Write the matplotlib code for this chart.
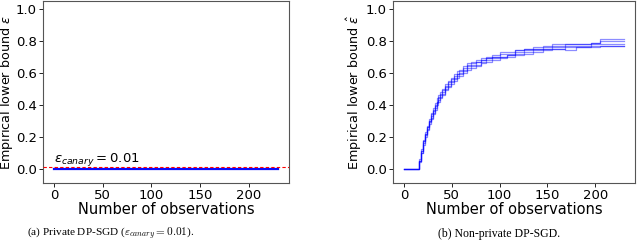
"""Empirical lower bound on epsilon for private vs non-private DP-SGD."""

import matplotlib.pyplot as plt

# number of observations at which the bound is recomputed
obs = [0, 14, 16, 18, 20, 22, 24, 26, 28, 30, 32, 34, 36, 38, 40, 43, 46, 49,
       52, 55, 58, 62, 66, 70, 75, 80, 86, 92, 100, 108, 116, 125, 135, 145,
       155, 168, 180, 195, 205, 230]

# private run: bound stays at zero
private_runs = [[0.0] * len(obs) for _ in range(5)]

# non-private runs
nonprivate_runs = [
    [0, 0, 0.06, 0.12, 0.18, 0.23, 0.27, 0.31, 0.35, 0.38, 0.41, 0.44, 0.46,
     0.48, 0.50, 0.53, 0.55, 0.57, 0.59, 0.61, 0.62, 0.64, 0.66, 0.67, 0.68,
     0.69, 0.69, 0.71, 0.73, 0.73, 0.74, 0.75, 0.76, 0.77, 0.78, 0.78, 0.78,
     0.79, 0.81, 0.81],
    [0, 0, 0.05, 0.11, 0.17, 0.22, 0.26, 0.30, 0.34, 0.37, 0.40, 0.42, 0.45,
     0.47, 0.49, 0.52, 0.54, 0.56, 0.58, 0.59, 0.61, 0.63, 0.65, 0.66, 0.67,
     0.68, 0.70, 0.70, 0.72, 0.72, 0.74, 0.75, 0.75, 0.76, 0.77, 0.78, 0.78,
     0.79, 0.80, 0.80],
    [0, 0, 0.05, 0.10, 0.16, 0.21, 0.25, 0.29, 0.32, 0.35, 0.38, 0.41, 0.43,
     0.45, 0.47, 0.50, 0.52, 0.54, 0.56, 0.58, 0.59, 0.61, 0.63, 0.64, 0.65,
     0.67, 0.68, 0.69, 0.70, 0.71, 0.72, 0.73, 0.74, 0.75, 0.75, 0.76, 0.76,
     0.77, 0.77, 0.77],
    [0, 0, 0.04, 0.10, 0.15, 0.20, 0.24, 0.28, 0.31, 0.34, 0.37, 0.40, 0.42,
     0.44, 0.46, 0.49, 0.51, 0.53, 0.55, 0.57, 0.58, 0.60, 0.62, 0.63, 0.64,
     0.66, 0.67, 0.68, 0.69, 0.70, 0.71, 0.72, 0.73, 0.74, 0.75, 0.74, 0.76,
     0.76, 0.77, 0.77],
    [0, 0, 0.05, 0.11, 0.17, 0.22, 0.26, 0.30, 0.33, 0.36, 0.39, 0.42, 0.44,
     0.46, 0.48, 0.51, 0.53, 0.55, 0.57, 0.59, 0.60, 0.62, 0.64, 0.65, 0.67,
     0.68, 0.69, 0.70, 0.70, 0.71, 0.73, 0.74, 0.75, 0.75, 0.76, 0.77, 0.77,
     0.78, 0.78, 0.78],
]

eps_canary = 0.01

fig = plt.figure(figsize=(6.4, 2.46), dpi=100)
ax_a = fig.add_axes([43 / 640, 1 - 183 / 246, 246 / 640, 182 / 246])
ax_b = fig.add_axes([393 / 640, 1 - 183 / 246, 242 / 640, 182 / 246])

for run in private_runs:
    ax_a.plot(obs, run, color="blue", alpha=0.5, lw=1.5)
ax_a.axhline(eps_canary, color="red", linestyle=(0, (3, 2)), lw=0.8, zorder=3)
ax_a.text(0, 0.04, r"$\epsilon_{canary} = 0.01$", fontsize=9.5)

for run in nonprivate_runs:
    ax_b.plot(obs, run, drawstyle="steps-post", color="blue", alpha=0.45, lw=0.9)

for ax, label_x in ((ax_a, -0.108), (ax_b, -0.12)):
    ax.set_ylim(-0.09, 1.05)
    ax.set_xticks([0, 50, 100, 150, 200])
    ax.set_yticks([0.0, 0.2, 0.4, 0.6, 0.8, 1.0])
    ax.tick_params(labelsize=9.5, length=3, width=0.6, pad=1.5)
    ax.set_xlabel("Number of observations", fontsize=10.5, labelpad=0)
    ax.set_ylabel(r"Empirical lower bound $\hat{\varepsilon}$", fontsize=9.2)
    ax.yaxis.set_label_coords(label_x, 0.5)
    for s in ax.spines.values():
        s.set_color("#555555")
        s.set_linewidth(0.8)

fig.text(111 / 640, 1 - 234 / 246,
         r"(a) Private DP-SGD ($\varepsilon_{canary} = 0.01$).",
         ha="center", va="center", fontsize=8.1, family="Liberation Serif",
         math_fontfamily="cm")
fig.text(499 / 640, 1 - 234 / 246, "(b) Non-private DP-SGD.",
         ha="center", va="center", fontsize=8.5, family="Liberation Serif")

fig.savefig("out.png", dpi=100)
